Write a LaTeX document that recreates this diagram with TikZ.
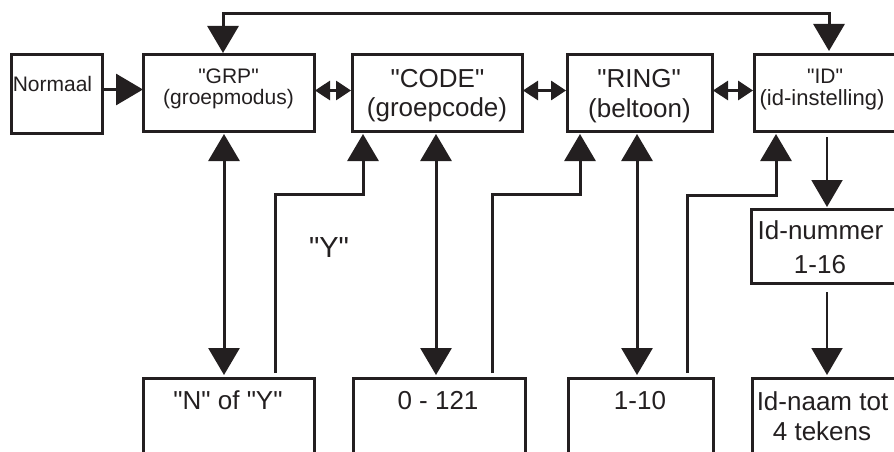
\documentclass[tikz,border=0pt]{standalone}
\usepackage{fontspec}
\setmainfont{Liberation Sans}[Ligatures=TeXOff]
\usetikzlibrary{arrows.meta}
\definecolor{ink}{RGB}{35,31,32}
\begin{document}
\begin{tikzpicture}[x=1pt,y=-1pt,
  box/.style={draw=ink, line width=3pt, inner sep=0pt, outer sep=0pt},
  ln/.style={draw=ink, line width=3pt},
  thinln/.style={draw=ink, line width=2pt},
  txs/.style={anchor=base, inner sep=0pt, text=ink, font=\fontsize{21}{25}\selectfont},
  txm/.style={anchor=base, inner sep=0pt, text=ink, font=\fontsize{22}{26}\selectfont},
  txb/.style={anchor=base, inner sep=0pt, text=ink, font=\fontsize{26}{31}\selectfont},
  txy/.style={anchor=base, inner sep=0pt, text=ink, font=\fontsize{29}{34}\selectfont},
  big/.tip={Triangle[width=31pt,length=27pt]},
  small/.tip={Triangle[width=19pt,length=15pt]}]
\useasboundingbox (0,0) rectangle (894,452);
\clip (0,0) rectangle (894,452);

% top row boxes
\node[box, minimum width=91, minimum height=78] (norm) at (56.5,94) {};
\node[box, minimum width=171, minimum height=76] (grp) at (228.5,93) {};
\node[box, minimum width=170, minimum height=76] (code) at (437,93) {};
\node[box, minimum width=145, minimum height=76] (ring) at (639.5,93) {};
\node[box, minimum width=181, minimum height=76] (id) at (844.5,93) {};

% lower boxes
\node[box, minimum width=184, minimum height=74] (idnum) at (843,246) {};
\node[box, minimum width=171, minimum height=102] (nofy) at (228.5,429) {};
\node[box, minimum width=172, minimum height=102] (rng) at (439,429) {};
\node[box, minimum width=145, minimum height=102] (bel) at (640.5,429) {};
\node[box, minimum width=183, minimum height=102] (idnaam) at (843.5,429) {};

% texts
\node[txs] (tnorm) at (52.5,92) {Normaal};
\node[txs] (tgrp1) at (228.5,84) {"GRP"};
\node[txs] (tgrp2) at (228.5,104.5) {(groepmodus)};
\node[txb] (tcode1) at (437.5,87) {"CODE"};
\node[txb] (tcode2) at (437,116.5) {(groepcode)};
\node[txb] (tring1) at (639,87) {"RING"};
\node[txb] (tring2) at (639.5,117) {(beltoon)};
\node[txs] (tid1) at (825,84) {"ID"};
\node[txm] (tid2) at (822,105) {(id-instelling)};
\node[txb] (tnum1) at (820.5,239) {Id-nummer};
\node[txb] (tnum2) at (820,273) {1-16};
\node[txb] (tnofy) at (228,409) {"N" of "Y"};
\node[txb] (trng) at (438,409) {0 - 121};
\node[txb] (tbel) at (640,409) {1-10};
\node[txb] (tnaam1) at (822.5,410) {Id-naam tot};
\node[txb] (tnaam2) at (822,440) {4 tekens};
\node[txy] (tyes) at (329,257) {"Y"};

% helper coordinates
\coordinate (xg) at (223,14);
\coordinate (xi) at (829,14);
\coordinate (ay) at (0,89.5);
\coordinate (dy) at (0,90.5);
\coordinate (v1) at (224,0);
\coordinate (v2) at (436,0);
\coordinate (v3) at (637,0);
\coordinate (s1) at (275,0);
\coordinate (k1) at (363,194);
\coordinate (s2) at (492,0);
\coordinate (k2) at (580,194);
\coordinate (s3) at (687,0);
\coordinate (k3) at (776,195);
\coordinate (vd) at (827,0);

% top feedback loop
\draw[ln, big-big, shorten <=2pt, shorten >=4pt] (grp.north -| xg) -- (xg) -| (id.north -| xi);

% Normaal -> GRP
\draw[ln, -big, shorten <=1pt] (norm.east |- ay) -- (grp.west |- ay);

% top double arrows
\draw[ln, small-small, shorten <=1pt, shorten >=1pt] (grp.east |- dy) -- (code.west |- dy);
\draw[ln, small-small, shorten <=1pt, shorten >=1pt] (code.east |- dy) -- (ring.west |- dy);
\draw[ln, small-small, shorten <=1pt, shorten >=1pt] (ring.east |- dy) -- (id.west |- dy);

% vertical double arrows
\draw[ln, big-big, shorten <=3pt, shorten >=3pt] (grp.south -| v1) -- (nofy.north -| v1);
\draw[ln, big-big, shorten <=3pt, shorten >=3pt] (code.south -| v2) -- (rng.north -| v2);
\draw[ln, big-big, shorten <=3pt, shorten >=3pt] (ring.south -| v3) -- (bel.north -| v3);

% "Y" return paths
\draw[ln, -big, shorten <=5pt, shorten >=3pt] (nofy.north -| s1) |- (k1) -- (code.south -| k1);
\draw[ln, -big, shorten <=5pt, shorten >=3pt] (rng.north -| s2) |- (k2) -- (ring.south -| k2);
\draw[ln, -big, shorten <=5pt, shorten >=3pt] (bel.north -| s3) |- (k3) -- (id.south -| k3);

% ID column
\draw[thinln, -big, shorten <=6pt, shorten >=2pt] (id.south -| vd) -- (idnum.north -| vd);
\draw[thinln, -big, shorten <=9pt, shorten >=3pt] (idnum.south -| vd) -- (idnaam.north -| vd);
\end{tikzpicture}
\end{document}
